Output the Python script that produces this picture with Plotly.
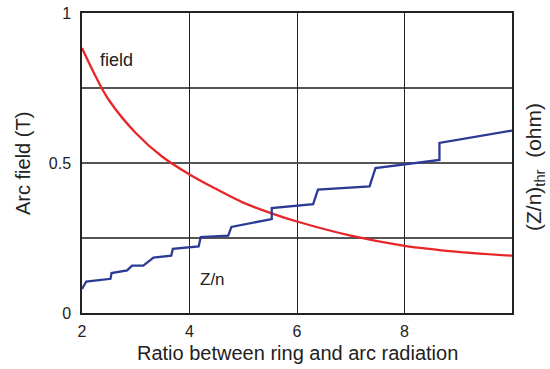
import plotly.graph_objects as go

# Arc field (T) vs ratio
field_x = [2.0, 2.25, 2.5, 3.0, 3.5, 4.0, 4.5, 5.0, 5.5, 6.0, 7.0, 8.0, 9.0, 10.0]
field_y = [0.883, 0.79, 0.71, 0.60, 0.52, 0.462, 0.413, 0.368, 0.334, 0.305, 0.258, 0.224, 0.204, 0.191]

# (Z/n)_thr staircase
zn_x = [2.0, 2.08, 2.53, 2.55, 2.84, 2.93, 3.14, 3.33, 3.66, 3.69, 4.17, 4.21, 4.72, 4.78,
        5.53, 5.53, 6.30, 6.39, 7.35, 7.46, 8.65, 8.65, 10.0]
zn_y = [0.08, 0.105, 0.114, 0.133, 0.142, 0.158, 0.158, 0.185, 0.191, 0.214, 0.222, 0.253, 0.258, 0.287,
        0.313, 0.35, 0.363, 0.411, 0.422, 0.483, 0.51, 0.567, 0.608]

x_ticks = [2, 4, 6, 8]
y_ticks = [0, 0.5, 1]
y_ticktext = ["0", "0.5", "1"]
y_minor = [0.25, 0.75]

FONT = "Liberation Sans, Arial, sans-serif"
TXT = "#222"
L, R, T, B = 82, 38, 13, 56

fig = go.Figure()
fig.add_trace(go.Scatter(x=field_x, y=field_y, mode="lines",
                         line=dict(color="#e8262a", width=2.3, shape="spline", smoothing=1.0),
                         showlegend=False))
fig.add_trace(go.Scatter(x=zn_x, y=zn_y, mode="lines",
                         line=dict(color="#2b3a95", width=2.3),
                         showlegend=False))

fig.update_layout(
    width=550, height=369,
    margin=dict(l=L, r=R, t=T, b=B),
    paper_bgcolor="white", plot_bgcolor="white",
    font=dict(family=FONT, size=16, color=TXT),
    xaxis=dict(range=[2, 10], tickvals=x_ticks, ticks="", showgrid=True,
               gridcolor="#222", gridwidth=1.3, zeroline=False, automargin=False,
               showline=True, linecolor="#222", linewidth=1.5, mirror=True,
               tickfont=dict(size=16), ticklabelstandoff=3),
    yaxis=dict(range=[0, 1], tickvals=y_ticks, ticktext=y_ticktext, ticks="", showgrid=True,
               gridcolor="#555", gridwidth=1.5, zeroline=False, automargin=False,
               showline=True, linecolor="#222", linewidth=1.5, mirror=True,
               tickfont=dict(size=16), ticklabelstandoff=6,
               minor=dict(tickvals=y_minor, showgrid=True, gridcolor="#555", gridwidth=1.5, ticks="")),
)

pw = 550 - L - R
ph = 369 - T - B


def px(x, y):
    return (x - L) / pw, 1 - (y - T) / ph


ann = [
    dict(text="field", x=2.64, y=0.842, xref="x", yref="y", showarrow=False,
         font=dict(size=18, family=FONT, color=TXT)),
    dict(text="Z/n", x=4.43, y=0.111, xref="x", yref="y", showarrow=False,
         font=dict(size=17, family=FONT, color=TXT)),
]
ax, ay = px(297, 353)
ann.append(dict(text="Ratio between ring and arc radiation", x=ax, y=ay, xref="paper", yref="paper",
                showarrow=False, xanchor="center", yanchor="middle",
                font=dict(size=20, family=FONT, color=TXT)))
ax, ay = px(23, 164)
ann.append(dict(text="Arc field (T)", x=ax, y=ay, xref="paper", yref="paper", showarrow=False,
                textangle=-90, xanchor="center", yanchor="middle",
                font=dict(size=20, family=FONT, color=TXT)))
ax, ay = px(535, 167)
ann.append(dict(text="(Z/n)<sub>thr</sub>  (ohm)", x=ax, y=ay, xref="paper", yref="paper",
                showarrow=False, textangle=-90, xanchor="center", yanchor="middle",
                font=dict(size=21, family=FONT, color=TXT)))
fig.update_layout(annotations=ann)

fig.write_html("out.html")
